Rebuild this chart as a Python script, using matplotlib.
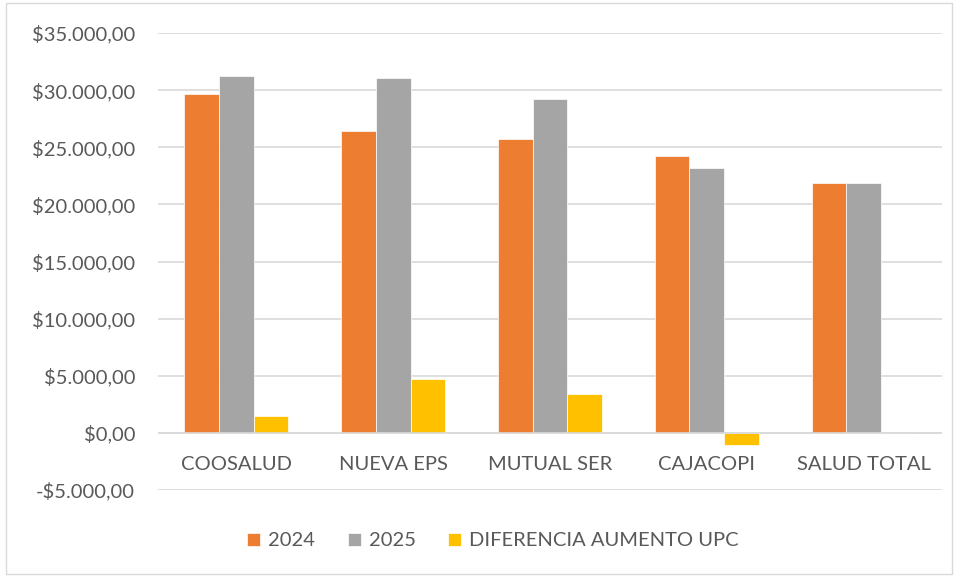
import matplotlib
matplotlib.use("Agg")
import matplotlib.pyplot as plt
import numpy as np
from matplotlib.ticker import FuncFormatter

categories = ["COOSALUD", "NUEVA EPS", "MUTUAL SER", "CAJACOPI", "SALUD TOTAL"]
v2024 = [29650, 26380, 25700, 24210, 21840]
v2025 = [31200, 31090, 29180, 23160, 21840]
diff = [1520, 4680, 3430, -1030, 0]
series_names = ["2024", "2025", "DIFERENCIA AUMENTO UPC"]
colors = ["#ED7D31", "#A5A5A5", "#FFC000"]
yticks = list(range(-5000, 35001, 5000))

plt.rcParams['font.family'] = ['Lato', 'DejaVu Sans']
fig = plt.figure(figsize=(9.58, 5.76), dpi=100)
ax = fig.add_axes([158/958, 1-490/576, (942-158)/958, (490-33)/576])

x = np.arange(len(categories))
w = 0.221
for i, (vals, name, c) in enumerate(zip([v2024, v2025, diff], series_names, colors)):
    ax.bar(x + (i-1)*w, vals, width=w, color=c, label=name, zorder=3,
           edgecolor='white', linewidth=0.5)

ax.set_xlim(-0.5, len(categories)-0.5)
ax.set_ylim(-5000, 35000)
ax.set_yticks(yticks)
def fmt(v, p):
    s = f"{abs(v):,.2f}".replace(",", "X").replace(".", ",").replace("X", ".")
    return ("-$" if v < 0 else "$") + s
ax.yaxis.set_major_formatter(FuncFormatter(fmt))
ax.grid(axis='y', color='#D9D9D9', linewidth=1.2, zorder=0)
ax.axhline(0, color='#D9D9D9', linewidth=1.2, zorder=4)
for s in ax.spines.values():
    s.set_visible(False)
ax.tick_params(axis='both', length=0, labelsize=14.5, colors='#595959')
ax.tick_params(axis='y', pad=16.5)
ax.set_xticks(x)
ax.set_xticklabels([])
for xi, cat in zip(x, categories):
    ax.text(xi, -2800, cat, ha='center', va='center', fontsize=14.5, color='#595959')

leg = fig.legend(loc='center', bbox_to_anchor=(493/958, 1-541/576), ncol=3, frameon=False,
                 fontsize=14.5, handlelength=0.65, handleheight=0.65, columnspacing=1.6,
                 handletextpad=0.4, labelcolor='#595959')

fig.patches.append(plt.Rectangle((0.006, 0.004), 0.988, 0.99, transform=fig.transFigure,
                                 fill=False, edgecolor='#D9D9D9', linewidth=1))
fig.savefig("out.png", dpi=100, facecolor='white')
